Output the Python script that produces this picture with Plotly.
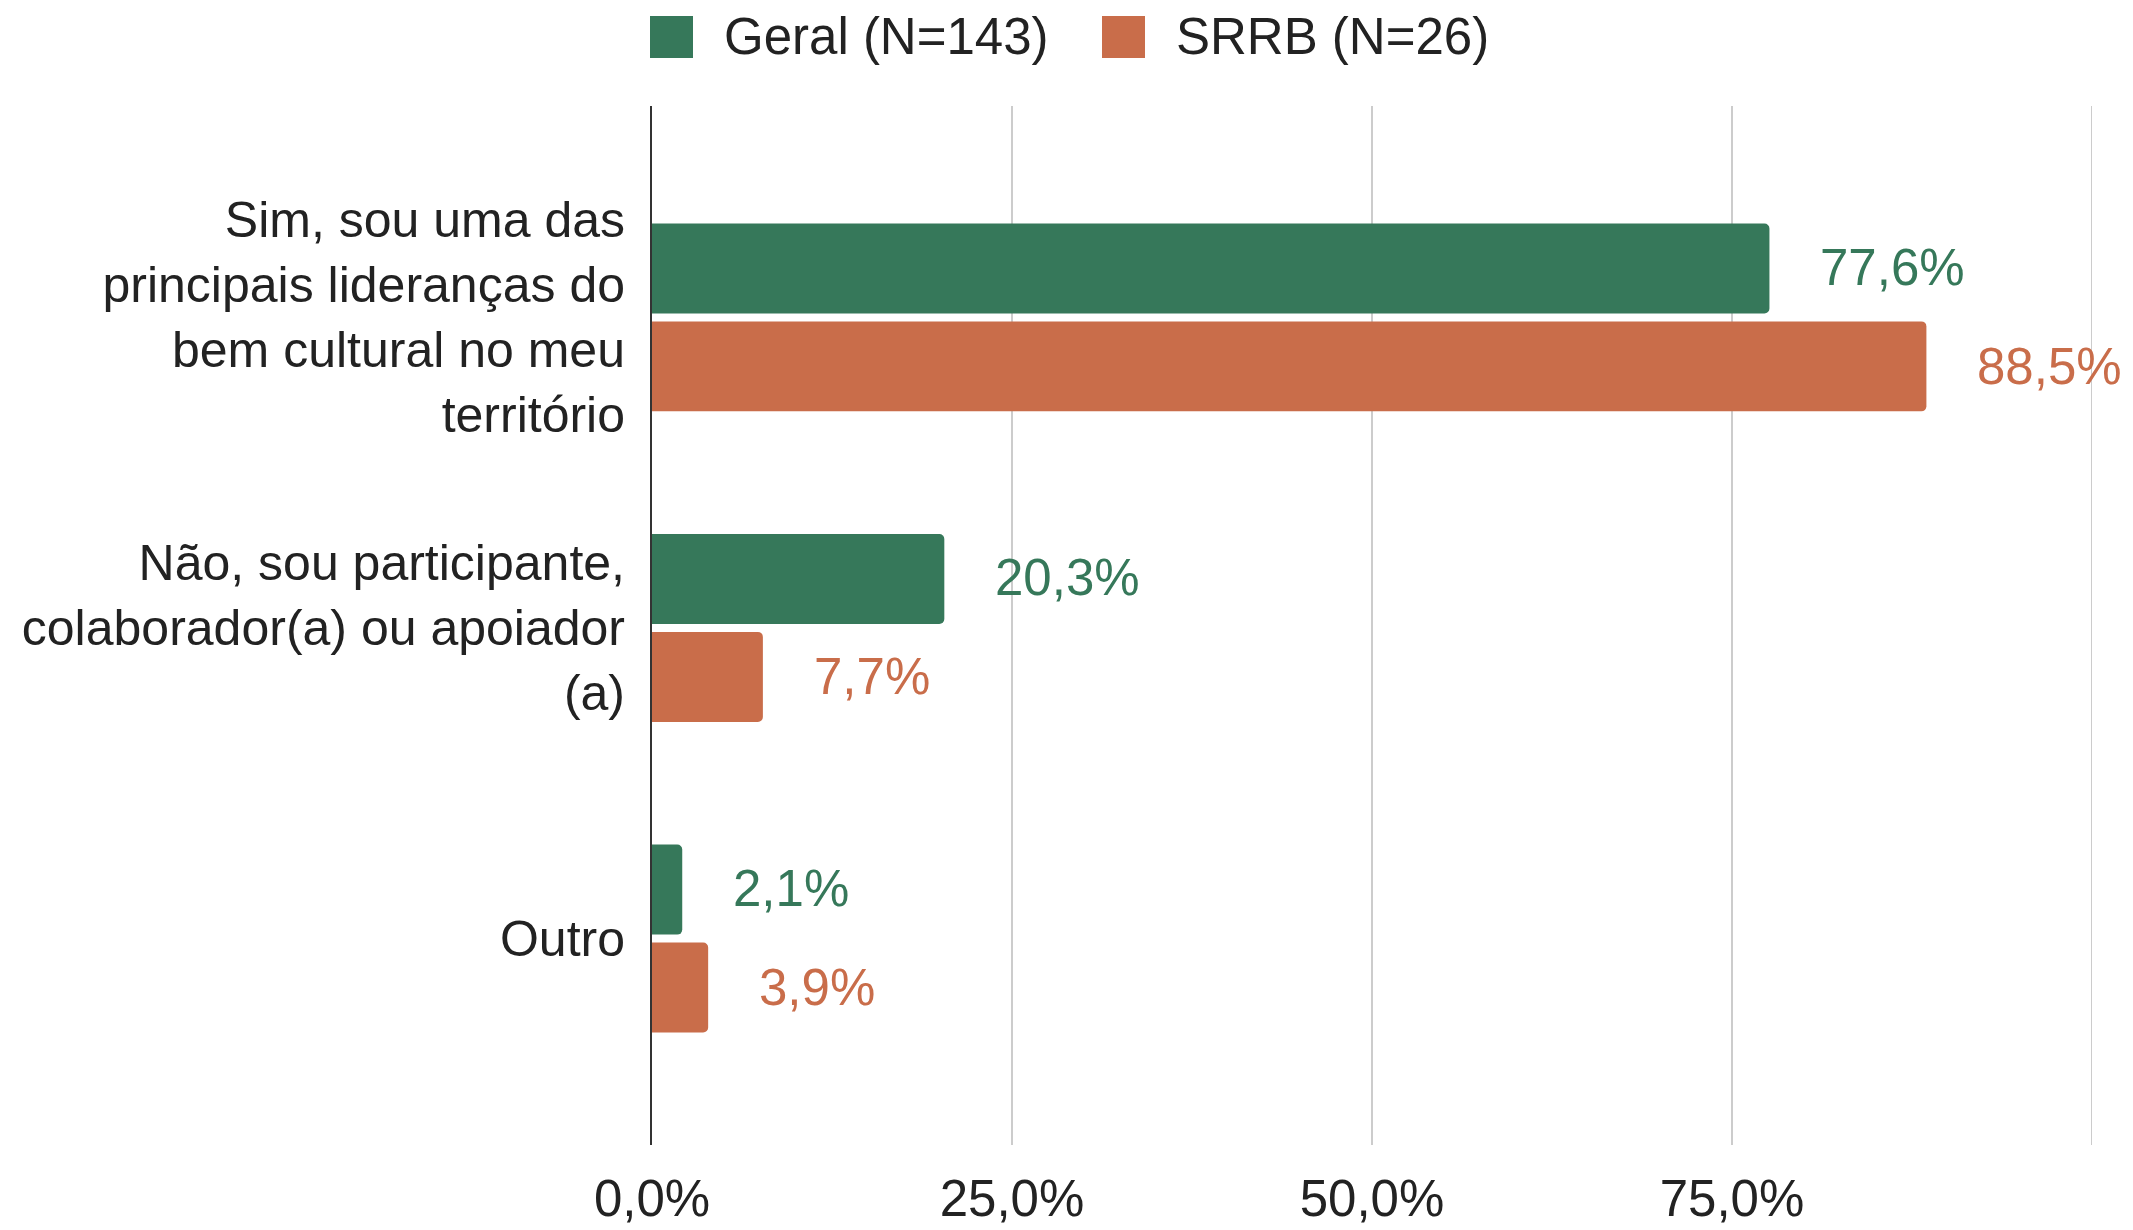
import plotly.graph_objects as go

categories = [
    "Sim, sou uma das<br>principais lideranças do<br>bem cultural no meu<br>território",
    "Não, sou participante,<br>colaborador(a) ou apoiador<br>(a)",
    "Outro",
]
series_names = ["Geral (N=143)", "SRRB (N=26)"]
geral = [0.776, 0.203, 0.021]
srrb = [0.885, 0.077, 0.039]
x_tick_vals = [0, 0.25, 0.5, 0.75, 1.0]
x_tick_text = ["0,0%", "25,0%", "50,0%", "75,0%", ""]
x_max = 1.0

GREEN = "#36785a"
ORANGE = "#c96d4a"
FONT = "Liberation Sans, Arial, sans-serif"
FS = 51
GRID = "#cccccc"

W, H = 2133, 1230
PL, PR, PT, PB = 652, 2092, 106, 1145  # plot area in page pixels


def px_x(X):
    return (X - PL) / (PR - PL)


def px_y(Y):
    return (PB - Y) / (PB - PT)


def fmt(v):
    return f"{v*100:.1f}%".replace(".", ",")


fig = go.Figure()
fig.add_trace(go.Bar(y=categories, x=geral, orientation="h", name=series_names[0],
                     marker=dict(color=GREEN, line=dict(width=0)), showlegend=False))
fig.add_trace(go.Bar(y=categories, x=srrb, orientation="h", name=series_names[1],
                     marker=dict(color=ORANGE, line=dict(width=0)), showlegend=False))

# gridline at the right end of the axis range
fig.add_shape(type="line", xref="x", yref="paper", x0=x_max, x1=x_max, y0=0, y1=1,
              line=dict(color=GRID, width=2), layer="below")

# value labels
for vals, color, ysh in [(geral, GREEN, 50), (srrb, ORANGE, -49)]:
    for c, v in zip(categories, vals):
        fig.add_annotation(x=v, y=c, xref="x", yref="y", text=fmt(v), showarrow=False,
                           xanchor="left", yanchor="middle", xshift=49, yshift=ysh,
                           font=dict(family=FONT, size=FS, color=color))

# legend (drawn manually to match large swatches)
legend_items = [(series_names[0], GREEN, 650, 722), (series_names[1], ORANGE, 1102, 1174)]
for name, color, sx, tx in legend_items:
    fig.add_shape(type="rect", xref="paper", yref="paper",
                  x0=px_x(sx), x1=px_x(sx + 43), y0=px_y(58), y1=px_y(16),
                  fillcolor=color, line=dict(width=0))
    fig.add_annotation(xref="paper", yref="paper", x=px_x(tx), y=px_y(36),
                       text=name, showarrow=False, xanchor="left", yanchor="middle",
                       font=dict(family=FONT, size=FS, color="#222222"))

fig.update_layout(
    template="none",
    width=W, height=H,
    margin=dict(l=PL, r=W - PR, t=PT, b=H - PB, autoexpand=False),
    paper_bgcolor="white", plot_bgcolor="white",
    barmode="group", bargap=0.37, bargroupgap=0.08,
    barcornerradius=5,
    font=dict(family=FONT, size=FS, color="#222222"),
    showlegend=False,
)
fig.update_xaxes(range=[0, x_max], tickvals=x_tick_vals, ticktext=x_tick_text,
                 showgrid=True, gridcolor=GRID, gridwidth=2, zeroline=False,
                 showline=False, automargin=False,
                 ticks="outside", ticklen=9, tickcolor="rgba(0,0,0,0)",
                 tickfont=dict(family=FONT, size=FS, color="#222222"))
fig.update_yaxes(range=[2.665, -0.681], showline=True, linecolor="#333333", linewidth=2,
                 showgrid=False, zeroline=False, automargin=False,
                 ticks="outside", ticklen=15, tickcolor="rgba(0,0,0,0)",
                 tickfont=dict(family=FONT, size=50, color="#222222"))

fig.write_html(
    "out.html",
    config={"displayModeBar": False},
    post_script="document.body.style.margin='0';document.body.style.overflow='hidden';",
)
